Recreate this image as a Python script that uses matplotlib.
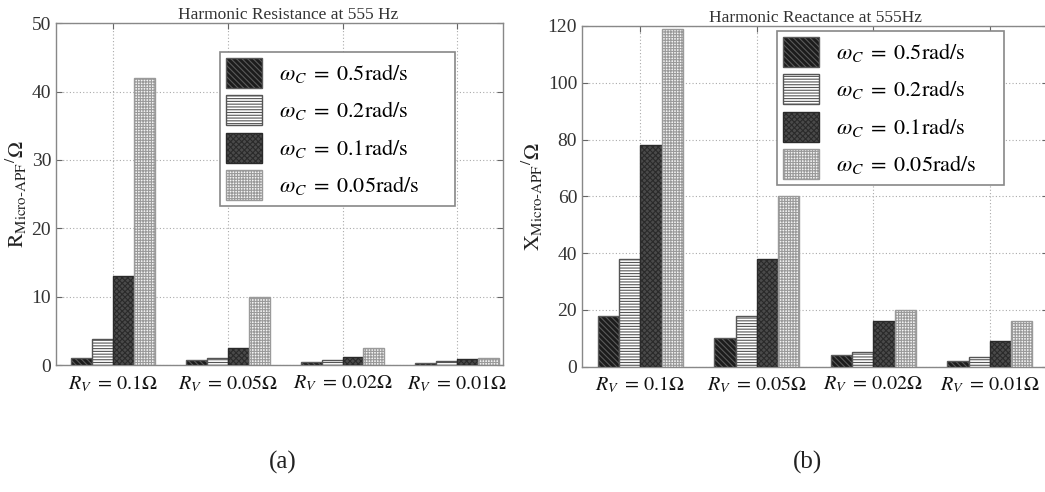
import numpy as np
import matplotlib
matplotlib.use("Agg")
import matplotlib.pyplot as plt

# ---- data -------------------------------------------------------------
groups = [r"$R_V\; =\, 0.1\Omega$", r"$R_V\; =\, 0.05\Omega$",
          r"$R_V\; =\, 0.02\Omega$", r"$R_V\; =\, 0.01\Omega$"]
series_labels = [r"$\omega_C\; =\; 0.5\mathrm{rad/s}$",
                 r"$\omega_C\; =\; 0.2\mathrm{rad/s}$",
                 r"$\omega_C\; =\; 0.1\mathrm{rad/s}$",
                 r"$\omega_C\; =\; 0.05\mathrm{rad/s}$"]

# Harmonic resistance at 555 Hz (ohm), one list per cut-off frequency
resistance_05 = [1.0, 0.7, 0.45, 0.25]
resistance_02 = [3.8, 1.0, 0.8, 0.55]
resistance_01 = [13.0, 2.5, 1.2, 0.85]
resistance_005 = [42.0, 10.0, 2.5, 1.0]

# Harmonic reactance at 555 Hz (ohm)
reactance_05 = [18.0, 10.0, 4.0, 2.0]
reactance_02 = [38.0, 18.0, 5.0, 3.5]
reactance_01 = [78.0, 38.0, 16.0, 9.0]
reactance_005 = [119.0, 60.0, 20.0, 16.0]

# ---- styling ----------------------------------------------------------
plt.rcParams["font.family"] = ["Liberation Serif", "DejaVu Serif"]
plt.rcParams["mathtext.fontset"] = "stix"
plt.rcParams["hatch.linewidth"] = 0.8

faces = ["#1c1c1c", "#ffffff", "#4a4a4a", "#f4f4f4"]
edges = ["#5a5a5a", "#555555", "#2a2a2a", "#9a9a9a"]
hatches = ["\\\\\\\\\\\\", "------", "xxxxxx", "++++++"]

W, H = 1045, 492
fig = plt.figure(figsize=(W / 100, H / 100), dpi=100)

ax1 = fig.add_axes([0.0536, 0.258, 0.4278, 0.695])
ax2 = fig.add_axes([0.557, 0.2547, 0.446, 0.6925])

x = np.arange(1, len(groups) + 1)
w = 0.1825
offsets = np.array([-1.5, -0.5, 0.5, 1.5]) * w


def draw(ax, series, ymax, ystep, title, title_x, ylabel, xlim, box):
    handles = []
    for i, vals in enumerate(series):
        b = ax.bar(x + offsets[i], vals, width=w, color=faces[i],
                   edgecolor=edges[i], hatch=hatches[i], linewidth=1.0,
                   label=series_labels[i], zorder=3)
        handles.append(b)
    ax.set_xlim(*xlim)
    ax.set_ylim(0, ymax)
    ax.set_yticks(np.arange(0, ymax + 1, ystep))
    ax.set_xticks(x)
    ax.set_xticklabels(groups, fontsize=14.5, color="#111111")
    ax.tick_params(axis="y", labelsize=14, labelcolor="#333333")
    ax.tick_params(direction="in", length=4, top=True, right=True,
                   color="#666666", width=0.8)
    ax.tick_params(axis="x", pad=6)
    ax.grid(True, linestyle=(0, (1, 2)), color="#aaaaaa", linewidth=0.8,
            zorder=0)
    ax.set_axisbelow(True)
    for s in ax.spines.values():
        s.set_color("#888888")
        s.set_linewidth(1.0)
    ax.set_title(title, fontsize=12.5, color="#333333", pad=3, x=title_x)
    ax.set_ylabel(ylabel, fontsize=15.5, color="#222222", labelpad=2)
    # legend box given in pixels: left, top, right, bottom
    l, t, r, b_ = box
    leg = fig.legend(handles=handles, loc="upper left",
                     bbox_to_anchor=(l / W, 1 - b_ / H, (r - l) / W,
                                     (b_ - t) / H),
                     bbox_transform=fig.transFigure, mode="expand",
                     borderaxespad=0.0,
                     fontsize=16, handlelength=1.62, handleheight=1.7,
                     labelspacing=0.34, handletextpad=0.8, borderpad=0.25,
                     fancybox=False, framealpha=1.0, edgecolor="#888888")
    leg.get_frame().set_linewidth(1.2)
    return leg


draw(ax1, [resistance_05, resistance_02, resistance_01, resistance_005],
     50, 10, "Harmonic Resistance at 555 Hz", 0.52,
     r"$\mathrm{R}_{\mathrm{Micro\text{-}APF}}{}^{/}\Omega$",
     (0.502, 4.40), (220, 52, 455, 205))
draw(ax2, [reactance_05, reactance_02, reactance_01, reactance_005],
     120, 20, "Harmonic Reactance at 555Hz", 0.5,
     r"$\mathrm{X}_{\mathrm{Micro\text{-}APF}}{}^{/}\Omega$",
     (0.5, 4.5), (777, 31, 1004, 192))

fig.text(283 / W, 1 - 462 / H, "(a)", ha="center", va="center",
         fontsize=18, color="#222222")
fig.text(808 / W, 1 - 462 / H, "(b)", ha="center", va="center",
         fontsize=18, color="#222222")

fig.savefig("out.png", dpi=100)
